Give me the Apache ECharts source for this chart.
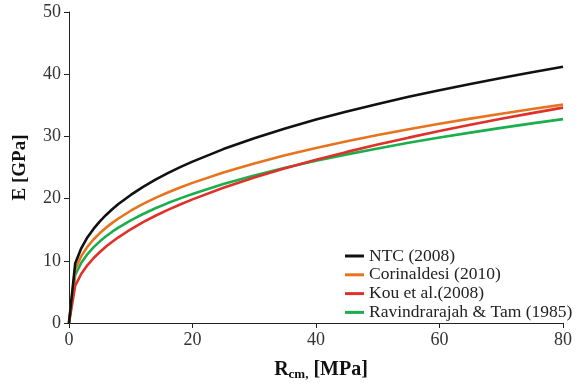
<!DOCTYPE html>
<html><head><meta charset="utf-8">
<script src="https://cdn.jsdelivr.net/npm/echarts@6/dist/echarts.min.js"></script>
<style>html,body{margin:0;padding:0;background:#fff}#c{width:580px;height:386px}</style>
</head><body><div id="c"></div>
<script>
const xs = [0,1,2,3,4,5,6,7,8,10,12,14,16,18,20,25,30,35,40,45,50,55,60,65,70,75,80];
const ntc = [0,9.56,12.05,13.79,15.17,16.35,17.37,18.29,19.12,20.59,21.88,23.04,24.09,25.06,25.95,27.96,29.71,31.27,32.70,34.01,35.22,36.36,37.43,38.44,39.40,40.32,41.20];
const corinaldesi = [0,8.64,10.78,12.28,13.46,14.46,15.33,16.10,16.80,18.05,19.14,20.11,20.98,21.79,22.53,24.20,25.66,26.96,28.13,29.21,30.21,31.15,32.03,32.86,33.65,34.40,35.11];
const kou = [0,6.00,7.92,9.31,10.45,11.42,12.29,13.07,13.78,15.07,16.21,17.24,18.19,19.06,19.88,21.74,23.39,24.88,26.24,27.51,28.69,29.80,30.86,31.87,32.83,33.74,34.63];
const ravindrarajah = [0,7.72,9.70,11.09,12.20,13.13,13.94,14.68,15.33,16.51,17.52,18.44,19.28,20.04,20.74,22.33,23.72,24.95,26.08,27.11,28.07,28.97,29.81,30.61,31.37,32.09,32.78];
const names = ['NTC (2008)','Corinaldesi (2010)','Kou et al.(2008)','Ravindrarajah & Tam (1985)'];
const colors = ['#111111','#e8731e','#e0302a','#1aae4c'];
const yTicks = [0,10,20,30,40,50];
const xTicks = [0,20,40,60,80];

const seriesData = [ntc, corinaldesi, kou, ravindrarajah];
const font = '"Liberation Serif", "DejaVu Serif", serif';
const chart = echarts.init(document.getElementById('c'));
chart.setOption({
  animation:false,
  textStyle:{fontFamily:font},
  grid:{left:69,right:17,top:12,bottom:60,containLabel:false},
  legend:{
    orient:'vertical', left:340, top:242, itemGap:0.8,
    itemWidth:19, itemHeight:3, icon:'rect',
    textStyle:{fontFamily:font,fontSize:17.5,color:'#222',padding:[0,0,0,0],lineHeight:17.5},
    data:names
  },
  xAxis:{
    type:'value', min:xTicks[0], max:xTicks[xTicks.length-1], interval:20,
    name:'{b|R}{s|cm,}{b| [MPa]}', nameLocation:'middle', nameGap:36,
    nameTextStyle:{padding:[0,0,0,10],rich:{b:{fontFamily:font,fontSize:20,fontWeight:'bold',color:'#111'},s:{fontFamily:font,fontSize:13,fontWeight:'bold',color:'#111',verticalAlign:'bottom',padding:[9,0,0,0]}}},
    axisLine:{lineStyle:{color:'#222',width:1}},
    axisTick:{inside:false,length:5,lineStyle:{color:'#222'}},
    axisLabel:{fontFamily:font,fontSize:18,color:'#333',margin:8},
    splitLine:{show:false}
  },
  yAxis:{
    type:'value', min:yTicks[0], max:yTicks[yTicks.length-1], interval:10,
    name:'E [GPa]', nameLocation:'middle', nameGap:39,
    nameTextStyle:{fontFamily:font,fontSize:19,fontWeight:'bold',color:'#111'},
    axisLine:{show:true,lineStyle:{color:'#222',width:1}},
    axisTick:{show:true,inside:false,length:5,lineStyle:{color:'#222'}},
    axisLabel:{fontFamily:font,fontSize:18,color:'#333',margin:8},
    splitLine:{show:false}
  },
  series: seriesData.map((d,i)=>({
    name:names[i], type:'line', showSymbol:false, symbol:'none', smooth:false,
    color:colors[i],
    lineStyle:{width:2.6,color:colors[i]},
    data:xs.map((x,j)=>[x,d[j]]),
    z: 10-i
  }))
});
</script></body></html>
